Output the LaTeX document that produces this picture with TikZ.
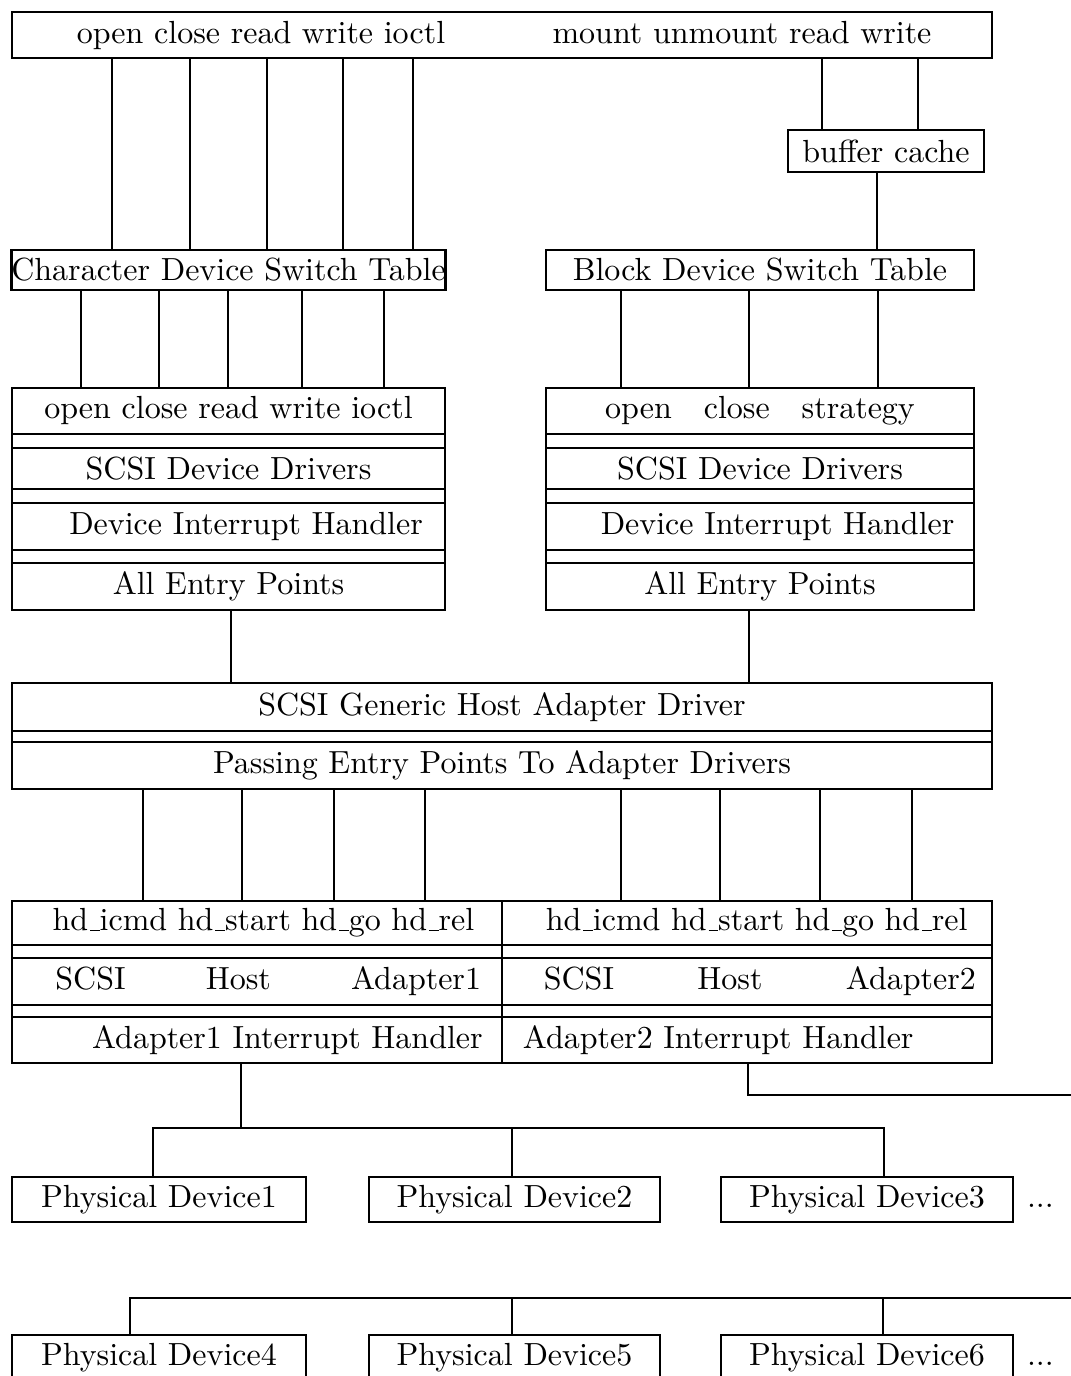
\documentclass[tikz,border=0pt]{standalone}
\usepackage{tikz}
\newcommand{\usc}{\leavevmode\kern.06em\vbox{\hrule width.3em}}

\begin{document}
\begin{tikzpicture}[thick, x=0.3125pt, y=-0.3125pt,
		cell/.style 2 args={draw,rectangle,inner sep=0pt,outer sep=0pt,minimum width=#1*0.3125pt,minimum height=#2*0.3125pt},
		calltext/.style={anchor=base,inner sep=0pt},
		more/.style={anchor=base west,inner sep=0pt}]
		\useasboundingbox (0,0) rectangle (1070,1376);

		\node[cell={980}{46}] (calls) at (502,35) {};
		\node[calltext] (chrcalls) at (261,44) {open close read write ioctl};
		\node[calltext] (blkcalls) at (742,44) {mount unmount read write};

		\node[cell={196}{42}] (buf) at (886,151) {buffer cache};
		\node[cell={433}{40}] (cdsw) at (228.5,270) {Character Device Switch Table};
		\node[cell={428}{40}] (bdsw) at (760,270) {Block Device Switch Table};

		\foreach \x in {112,190,267,343,413}
			\draw (calls.south -| \x,0) -- (cdsw.north -| \x,0);
		\foreach \x in {822,918}
			\draw (calls.south -| \x,0) -- (buf.north -| \x,0);
		\draw (buf.south -| 877,0) -- (bdsw.north -| 877,0);

		\node[cell={433}{46}] (lopen) at (228.5,411) {open close read write ioctl};
		\node[cell={433}{41}] (ldrv) at (228.5,468.5) {SCSI Device Drivers};
		\node[cell={433}{47}] (lintr) at (228.5,526.5) {\hspace*{11pt}Device Interrupt Handler};
		\node[cell={433}{47}] (lentry) at (228.5,586.5) {All Entry Points};
		\draw (lopen.north west) -- (lentry.south west) (lopen.north east) -- (lentry.south east);

		\node[cell={428}{46}] (ropen) at (760,411) {open\quad close\quad strategy};
		\node[cell={428}{41}] (rdrv) at (760,468.5) {SCSI Device Drivers};
		\node[cell={428}{47}] (rintr) at (760,526.5) {\hspace*{11pt}Device Interrupt Handler};
		\node[cell={428}{47}] (rentry) at (760,586.5) {All Entry Points};
		\draw (ropen.north west) -- (rentry.south west) (ropen.north east) -- (rentry.south east);

		\foreach \x in {81,159,228,302,384}
			\draw (cdsw.south -| \x,0) -- (lopen.north -| \x,0);
		\foreach \x in {621,749,878}
			\draw (bdsw.south -| \x,0) -- (ropen.north -| \x,0);

		\node[cell={980}{48}] (gen) at (502,707) {SCSI Generic Host Adapter Driver};
		\node[cell={980}{47}] (pass) at (502,765.5) {Passing Entry Points To Adapter Drivers};
		\draw (gen.north west) -- (pass.south west) (gen.north east) -- (pass.south east);
		\draw (lentry.south -| 231,0) -- (gen.north -| 231,0);
		\draw (rentry.south -| 749,0) -- (gen.north -| 749,0);

		\node[cell={490}{44}] (aent) at (257,923) {\hspace*{4pt}hd\usc icmd hd\usc start hd\usc go hd\usc rel};
		\node[cell={490}{47}] (ahost) at (257,981.5) {\hspace*{7pt}\makebox[133pt]{SCSI\hfill Host\hfill Adapter1}};
		\node[cell={490}{46}] (aint) at (257,1040) {\hspace*{19pt}Adapter1 Interrupt Handler};
		\draw (aent.north west) -- (aint.south west) (aent.north east) -- (aint.south east);

		\node[cell={490}{44}] (bent) at (747,923) {\hspace*{6pt}hd\usc icmd hd\usc start hd\usc go hd\usc rel};
		\node[cell={490}{47}] (bhost) at (747,981.5) {\hspace*{8pt}\makebox[135pt]{SCSI\hfill Host\hfill Adapter2}};
		\node[cell={490}{46}] (bint) at (747,1040) {Adapter2 Interrupt Handler\hspace*{18pt}};
		\draw (bent.north east) -- (bint.south east);

		\foreach \x in {143,242,334,425}
			\draw (pass.south -| \x,0) -- (aent.north -| \x,0);
		\foreach \x in {621,720,820,912}
			\draw (pass.south -| \x,0) -- (bent.north -| \x,0);

		\node[cell={294}{45}] (pd1) at (159,1199.5) {Physical Device1};
		\node[cell={291}{45}] (pd2) at (514.5,1199.5) {Physical Device2};
		\node[cell={292}{45}] (pd3) at (867,1199.5) {Physical Device3};
		\node[more] (more1) at ([xshift=4pt]pd3.base east) {...};

		\node[cell={294}{45}] (pd4) at (159,1357.5) {Physical Device4};
		\node[cell={291}{45}] (pd5) at (514.5,1357.5) {Physical Device5};
		\node[cell={292}{45}] (pd6) at (867,1357.5) {Physical Device6};
		\node[more] (more2) at ([xshift=4pt]pd6.base east) {...};

		\coordinate (bus1) at (241,1128);
		\coordinate (bus1w) at (153,1128);
		\coordinate (bus1e) at (884,1128);
		\draw (aint.south -| bus1) -- (bus1);
		\draw (pd1.north -| bus1w) -- (bus1w) -- (bus1e) -- (pd3.north -| bus1e);
		\draw (pd2.north -| 512,0) -- (bus1 -| 512,0);

		\coordinate (bus2) at (748,1095);
		\coordinate (bus2off) at (1080,1095);
		\draw (bint.south -| bus2) -- (bus2) -- (bus2off);

		\coordinate (bus3w) at (130,1298);
		\coordinate (bus3off) at (1080,1298);
		\draw (pd4.north -| bus3w) -- (bus3w) -- (bus3off);
		\draw (pd5.north -| 512,0) -- (bus3w -| 512,0);
		\draw (pd6.north -| 883,0) -- (bus3w -| 883,0);
\end{tikzpicture}
\end{document}
